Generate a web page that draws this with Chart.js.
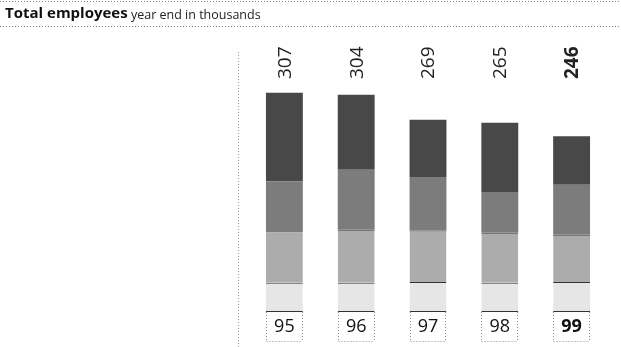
<!DOCTYPE html>
<html>
<head>
<meta charset="utf-8">
<script src="https://cdn.jsdelivr.net/npm/chart.js@4"></script>
<style>
  html, body { margin:0; padding:0; background:#fff; }
  #wrap { width:621px; height:347px; position:relative; }
</style>
</head>
<body>
<div id="wrap"><canvas id="plot" width="621" height="347"></canvas></div>
<script>
// year end headcount, thousands
var years = ['95', '96', '97', '98', '99'];
var totals = [307, 304, 269, 265, 246];

// stacked parts, bottom to top
var partA = [41, 41, 42, 41, 42];
var partB = [72, 74, 72, 70, 66];
var partC = [70, 84, 75, 57, 70];
var partD = [124, 105, 80, 97, 68];

var titleBold = 'Total employees';
var titleRest = ' year end in thousands';

var dotted = function(ctx, x1, y1, x2, y2, col){
    ctx.save();
    ctx.strokeStyle = col || '#8a8a8a';
    ctx.lineWidth = 1;
    ctx.setLineDash([1, 2]);
    ctx.beginPath();
    ctx.moveTo(x1, y1);
    ctx.lineTo(x2, y2);
    ctx.stroke();
    ctx.restore();
};

var decor = {
    id: 'decor',
    afterDraw: function(chart){
        var ctx = chart.ctx;
        var x = chart.scales.x;
        var y = chart.scales.y;

        // title and rules
        dotted(ctx, 0, 1.5, 621, 1.5);
        dotted(ctx, 0, 26.5, 621, 26.5);
        ctx.save();
        ctx.fillStyle = '#111';
        ctx.textBaseline = 'middle';
        ctx.font = 'bold 15px "Open Sans"';
        ctx.fillText(titleBold, 5, 14);
        var w = ctx.measureText(titleBold).width;
        ctx.font = '12.5px "Open Sans"';
        ctx.fillStyle = '#222';
        ctx.fillText(titleRest, 5 + w, 15);
        ctx.restore();

        // left dotted axis
        dotted(ctx, 238.5, 52, 238.5, 347, '#9a9a9a');

        var bw = chart.getDatasetMeta(0).data[0].width;
        var base = y.getPixelForValue(0);

        years.forEach(function(lab, i){
            var cx = x.getPixelForValue(i);
            var l = Math.round(cx - bw / 2) + 0.5;
            var r = Math.round(cx + bw / 2) - 0.5;

            // year box
            dotted(ctx, l, base, l, base + 29);
            dotted(ctx, r, base, r, base + 29);
            dotted(ctx, l, base + 29.5, r, base + 29.5);
            ctx.save();
            ctx.fillStyle = '#111';
            ctx.font = (i === years.length - 1 ? 'bold ' : '') + '18px "Open Sans"';
            ctx.textAlign = 'center';
            ctx.textBaseline = 'middle';
            ctx.fillText(lab, cx, base + 15);
            ctx.restore();

            // rotated totals
            ctx.save();
            ctx.translate(cx + 1, 79);
            ctx.rotate(-Math.PI / 2);
            ctx.fillStyle = '#222';
            ctx.font = (i === totals.length - 1 ? 'bold ' : '') + '19px "Open Sans"';
            ctx.textAlign = 'left';
            ctx.textBaseline = 'middle';
            ctx.fillText(String(totals[i]), 0, 0);
            ctx.restore();
        });
    }
};

var seg = function(data, fill, line, bt, bb){
    return {
        data: data,
        backgroundColor: fill,
        borderColor: line,
        borderWidth: {top: bt, bottom: bb, left: 0, right: 0},
        borderSkipped: false
    };
};

var chart = new Chart(document.getElementById('plot').getContext('2d'), {
    type: 'bar',
    data: {
        labels: years,
        datasets: [
            seg(partA, '#e6e6e6', '#333', 1, 1),
            seg(partB, '#acacac', '#333', 1, 0),
            seg(partC, '#7c7c7c', '#7c7c7c', 0, 0),
            seg(partD, '#484848', '#484848', 0, 0)
        ]
    },
    options: {
        responsive: false,
        animation: false,
        layout: {padding: {left: 248.5, right: 13.5, top: 62, bottom: 35}},
        datasets: {bar: {barPercentage: 37 / 72, categoryPercentage: 1}},
        plugins: {legend: {display: false}, tooltip: {enabled: false}},
        scales: {
            x: {stacked: true, display: false},
            y: {stacked: true, display: false, min: 0, max: 350}
        }
    },
    plugins: [decor]
});
</script>
</body>
</html>
